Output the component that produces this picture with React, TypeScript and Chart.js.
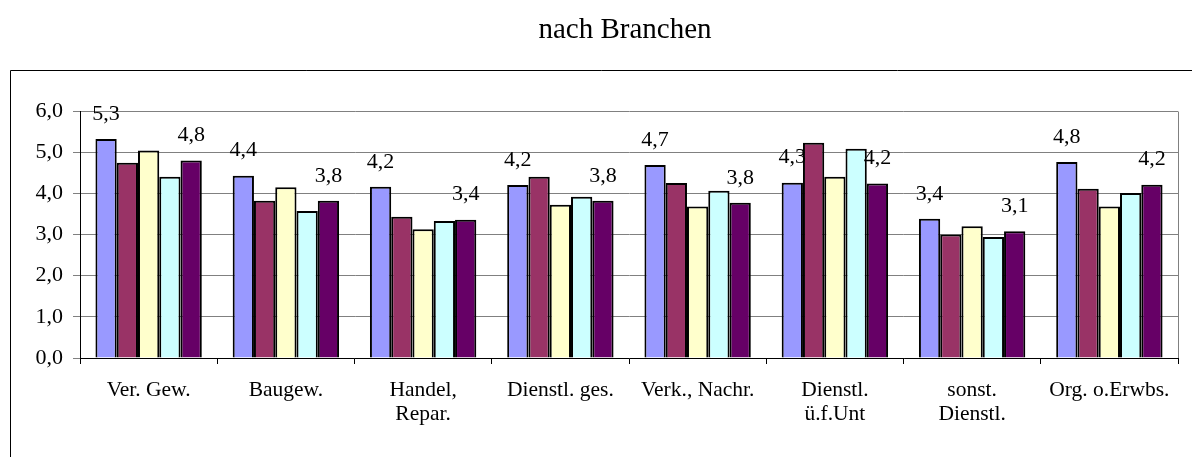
import React, { useEffect, useRef } from "react";
import { Chart, registerables } from "chart.js";

Chart.register(...registerables);

const categories: (string | string[])[] = [
  "Ver. Gew.",
  "Baugew.",
  ["Handel,", "Repar."],
  "Dienstl. ges.",
  "Verk., Nachr.",
  ["Dienstl.", "ü.f.Unt"],
  ["sonst.", "Dienstl."],
  "Org. o.Erwbs.",
];

const series1 = [5.32, 4.43, 4.16, 4.2, 4.69, 4.26, 3.38, 4.76];
const series2 = [4.74, 3.82, 3.43, 4.4, 4.25, 5.23, 3.0, 4.11];
const series3 = [5.04, 4.15, 3.13, 3.72, 3.68, 4.4, 3.2, 3.68];
const series4 = [4.4, 3.57, 3.33, 3.92, 4.06, 5.08, 2.94, 4.01];
const series5 = [4.8, 3.82, 3.36, 3.82, 3.77, 4.24, 3.08, 4.21];

const seriesNames = ["Reihe 1", "Reihe 2", "Reihe 3", "Reihe 4", "Reihe 5"];
const colors = ["#9999FF", "#993366", "#FFFFCC", "#CCFFFF", "#660066"];
const labelledSeries = [0, 4];

const titleText = "nach Branchen";
const FONT = '"Liberation Serif", "Times New Roman", serif';

const fmt = (v: number) => v.toFixed(1).replace(".", ",");

export default function App() {
  const ref = useRef<HTMLCanvasElement | null>(null);

  useEffect(() => {
    if (!ref.current) return;
    const all = [series1, series2, series3, series4, series5];

    const decor = {
      id: "decor",
      beforeDraw(chart: any) {
        const ctx = chart.ctx;
        ctx.save();
        ctx.fillStyle = "#ffffff";
        ctx.fillRect(0, 0, chart.width, chart.height);
        // outer frame
        ctx.strokeStyle = "#000";
        ctx.lineWidth = 1;
        ctx.beginPath();
        ctx.moveTo(10.5, chart.height + 5);
        ctx.lineTo(10.5, 70.5);
        ctx.lineTo(chart.width + 5, 70.5);
        ctx.stroke();
        // title
        const a = chart.chartArea;
        ctx.fillStyle = "#000";
        ctx.font = `29px ${FONT}`;
        ctx.textAlign = "center";
        ctx.textBaseline = "alphabetic";
        ctx.fillText(titleText, (a.left + a.right) / 2 - 4, 38);
        ctx.restore();
      },
      beforeDatasetsDraw(chart: any) {
        const ctx = chart.ctx;
        const a = chart.chartArea;
        ctx.save();
        ctx.strokeStyle = "#808080";
        ctx.lineWidth = 1;
        ctx.beginPath();
        ctx.moveTo(Math.round(a.right) + 0.5, a.bottom);
        ctx.lineTo(Math.round(a.right) + 0.5, Math.round(a.top) + 0.5);
        ctx.stroke();
        ctx.restore();
      },
      afterDatasetsDraw(chart: any) {
        const ctx = chart.ctx;
        ctx.save();
        ctx.fillStyle = "#000";
        ctx.font = `22px ${FONT}`;
        ctx.textAlign = "center";
        ctx.textBaseline = "middle";
        labelledSeries.forEach((di) => {
          const meta = chart.getDatasetMeta(di);
          meta.data.forEach((bar: any, i: number) => {
            const v = chart.data.datasets[di].data[i] as number;
            ctx.fillText(fmt(v), bar.x, bar.y - 25);
          });
        });
        ctx.restore();
      },
    };

    const chart = new Chart(ref.current, {
      type: "bar",
      data: {
        labels: categories as any,
        datasets: all.map((d, i) => ({
          label: seriesNames[i],
          data: d,
          backgroundColor: colors[i],
          borderColor: "#000",
          borderWidth: 2,
          barPercentage: 1,
          categoryPercentage: 0.775,
        })),
      },
      options: {
        responsive: false,
        animation: false,
        devicePixelRatio: 1,
        layout: { padding: { top: 111, right: 14, left: 0, bottom: 0 } },
        plugins: {
          legend: { display: false },
          title: { display: false },
          tooltip: { enabled: false },
        },
        scales: {
          x: {
            grid: {
              display: true,
              drawOnChartArea: false,
              offset: true,
              tickLength: 6,
              color: "#000",
            },
            border: { display: true, color: "#000", width: 1 },
            ticks: {
              color: "#000",
              font: { family: FONT, size: 21.5, lineHeight: 1.1 },
              padding: 15,
              maxRotation: 0,
              autoSkip: false,
            },
            afterFit(scale: any) {
              scale.height = 99;
            },
          },
          y: {
            min: 0,
            max: 6,
            grid: {
              color: "#808080",
              tickLength: 7,
              lineWidth: 1,
            },
            border: { display: true, color: "#000", width: 1 },
            ticks: {
              stepSize: 1,
              color: "#000",
              padding: 10,
              font: { family: FONT, size: 22 },
              callback: (v: any) => fmt(Number(v)),
            },
            afterFit(scale: any) {
              scale.width = 80;
            },
          },
        },
      },
      plugins: [decor],
    });
    return () => chart.destroy();
  }, []);

  return (
    <div style={{ position: "absolute", left: 0, top: 0, width: 1192, height: 457 }}>
      <canvas ref={ref} width={1192} height={457} style={{ display: "block" }} />
    </div>
  );
}
